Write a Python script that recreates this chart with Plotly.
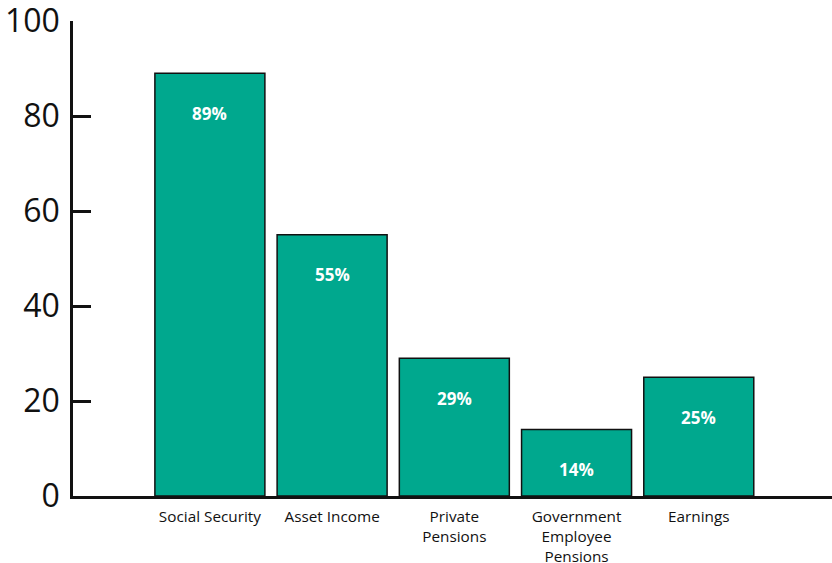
import plotly.graph_objects as go

categories = ["Social Security", "Asset Income", "Private<br>Pensions",
              "Government<br>Employee<br>Pensions", "Earnings"]
values = [89, 55, 29, 14, 25]
labels = ["89%", "55%", "29%", "14%", "25%"]
y_ticks = [0, 20, 40, 60, 80, 100]

fig = go.Figure()
fig.add_trace(go.Bar(
    x=categories, y=values,
    marker=dict(color="#00A88E", line=dict(color="#111111", width=1.5)),
    width=0.9,
    hoverinfo="skip",
))
for c, v, t in zip(categories, values, labels):
    fig.add_annotation(x=c, y=v, text=f"<b>{t}</b>", showarrow=False,
                       yshift=-40, font=dict(family="Open Sans", size=17, color="white"))

fig.update_layout(
    width=832, height=563,
    margin=dict(l=73, r=0, t=21, b=67),
    plot_bgcolor="white", paper_bgcolor="white",
    showlegend=False,
    font=dict(family="Open Sans", color="#111111"),
    bargap=0.1,
)
fig.update_xaxes(
    type="category",
    range=[-1.12, 5.09],
    automargin=False,
    showline=True, linecolor="#111111", linewidth=2.5,
    ticks="", showgrid=False, zeroline=False,
    ticklabelstandoff=5,
    ticklabeloverflow="allow",
    tickfont=dict(size=15.3, family="Open Sans"),
)
fig.update_yaxes(
    range=[0, 100.01],
    tickvals=y_ticks,
    automargin=False,
    showline=True, linecolor="#111111", linewidth=2.5,
    ticks="inside", ticklen=18, tickwidth=2.5, tickcolor="#111111",
    showgrid=False, zeroline=False,
    ticklabelstandoff=4,
    ticklabeloverflow="allow",
    tickfont=dict(size=32, family="Open Sans"),
)
fig.write_html("out.html")
